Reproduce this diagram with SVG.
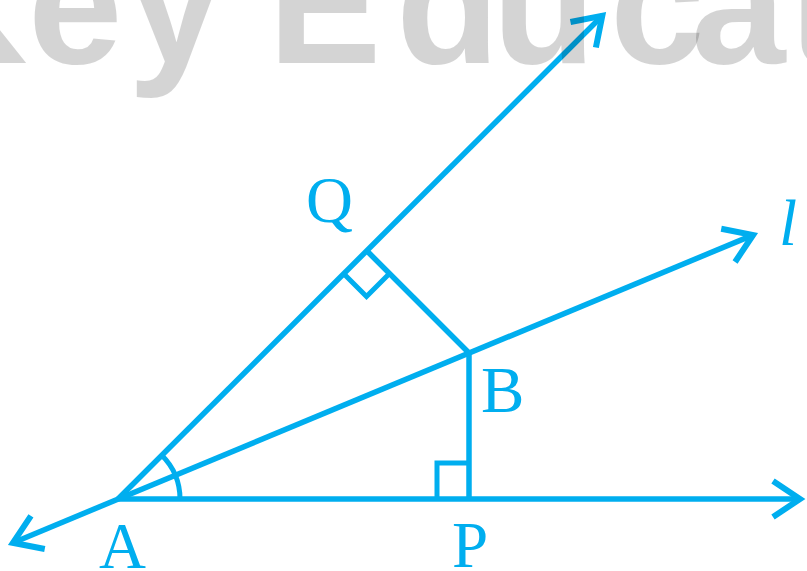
<svg xmlns="http://www.w3.org/2000/svg" width="807" height="571" viewBox="0 0 807 571">
  <style>
    .ln { fill: none; stroke: #00aeef; stroke-width: 5.5; stroke-linecap: butt; stroke-linejoin: miter; }
    .mk { fill: none; stroke: #00aeef; stroke-width: 5; stroke-linejoin: miter; }
    .lbl { font-family: "Liberation Serif", "Times New Roman", serif; font-size: 65px; fill: #00aeef; }
    .it { font-style: italic; }
    .wm { font-family: "Liberation Sans", Arial, sans-serif; font-weight: bold; font-size: 170px; fill: #000; fill-opacity: 0.17; }
  </style>
  <defs>
    <marker id="arr" viewBox="-45 -25 55 50" markerWidth="55" markerHeight="50" refX="0" refY="0" orient="auto-start-reverse" markerUnits="userSpaceOnUse">
      <path d="M-28,-18 L-1,0 L-28,18" fill="none" stroke="#00aeef" stroke-width="6" stroke-linejoin="miter"/>
    </marker>
  </defs>
  <rect width="807" height="571" fill="#fff"/>

  <g id="connectors">
    <line id="ray-AP" class="ln" x1="118" y1="499" x2="801" y2="499" marker-end="url(#arr)"/>
    <line id="ray-AQ" class="ln" x1="118" y1="499" x2="603" y2="15" marker-end="url(#arr)"/>
    <line id="line-l" class="ln" x1="12" y1="543.2" x2="754" y2="234.6" marker-start="url(#arr)" marker-end="url(#arr)"/>
    <line id="seg-BP" class="ln" x1="469" y1="353" x2="469" y2="499"/>
    <line id="seg-BQ" class="ln" x1="366.5" y1="250.5" x2="469" y2="353"/>
  </g>

  <g id="marks">
    <path id="angle-A" class="mk" d="M180,499 A62,62 0 0 0 161.8,455.2"/>
    <polyline id="right-P" class="mk" points="437,499 437,463 469,463"/>
    <polyline id="right-Q" class="mk" points="343.5,273.5 366.5,296.5 389.5,273.5"/>
  </g>

  <g id="node-A"><text class="lbl" x="99" y="568">A</text></g>
  <g id="node-B"><text class="lbl" x="481" y="412">B</text></g>
  <g id="node-P"><text class="lbl" x="452" y="567">P</text></g>
  <g id="node-Q"><text class="lbl" x="306" y="222">Q</text></g>
  <g id="node-l"><text class="lbl it" x="779" y="245">l</text></g>

  <text class="wm" x="-95 28 128 230 268 396 492 610 691 788" y="63">Key Educat</text>
</svg>
